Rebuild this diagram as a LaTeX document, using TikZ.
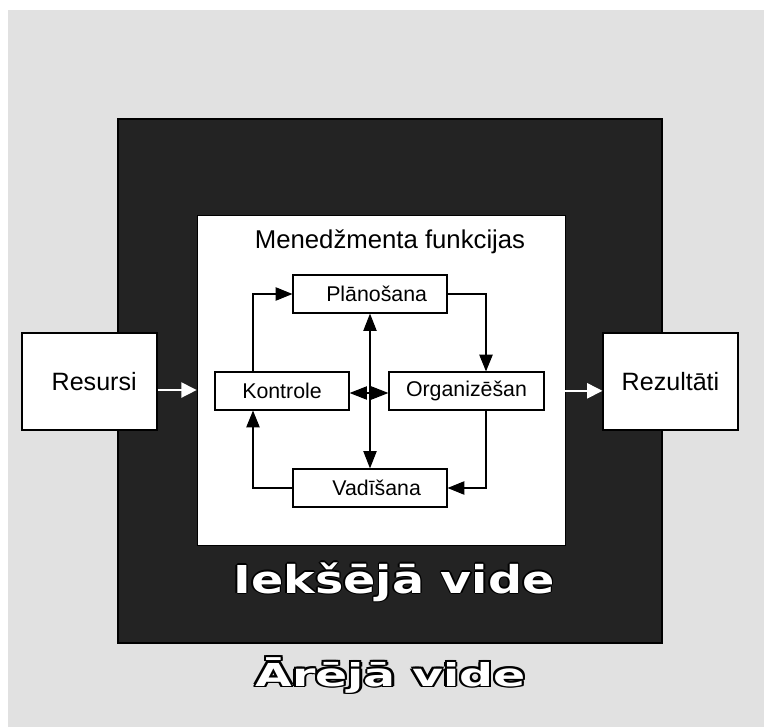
\documentclass[tikz,border=0pt]{standalone}
\usepackage{fontspec}
\setmainfont{Liberation Sans}
\newfontfamily\heavyfont{DejaVu Sans}
\usetikzlibrary{arrows.meta}

\definecolor{pagegray}{HTML}{E1E1E1}
\definecolor{envdark}{HTML}{232323}

% white lettering with a black rim, built from shifted black copies
\newlength\ringr
\newcommand\outlinetext[2]{\setlength\ringr{#1}%
  \makebox[0pt][l]{\color{black}%
    \rlap{\hspace*{\ringr}#2}\rlap{\hspace*{-\ringr}#2}%
    \rlap{\raisebox{\ringr}{#2}}\rlap{\raisebox{-\ringr}{#2}}%
    \rlap{\hspace*{0.7\ringr}\raisebox{0.7\ringr}{#2}}%
    \rlap{\hspace*{-0.7\ringr}\raisebox{0.7\ringr}{#2}}%
    \rlap{\hspace*{0.7\ringr}\raisebox{-0.7\ringr}{#2}}%
    \rlap{\hspace*{-0.7\ringr}\raisebox{-0.7\ringr}{#2}}}%
  \textcolor{white}{#2}}

\tikzset{
  pxbox/.style 2 args={minimum width=#1*0.75pt, minimum height=#2*0.75pt, inner sep=0pt},
  outerbox/.style={draw=black, fill=white, line width=0.9pt,
    font=\fontsize{18.8}{22}\selectfont},
  funcbox/.style={draw=black, fill=white, line width=0.9pt,
    font=\fontsize{16}{19}\selectfont},
  flow/.style={line width=0.8pt, -{Triangle[length=12.5pt,width=10pt]}},
  twoway/.style={line width=0.8pt,
    {Triangle[length=13pt,width=10pt]}-{Triangle[length=13pt,width=10pt]}},
  whiteflow/.style={draw=white, line width=1.1pt,
    -{Triangle[length=11.5pt,width=11.5pt,fill=white]}},
}

\begin{document}
\begin{tikzpicture}[x=0.75pt, y=-0.75pt]
  % page and surrounding environment
  \useasboundingbox (0,0) rectangle (764,727);
  \fill[white] (0,0) rectangle (764,727);
  \fill[pagegray] (8,10) rectangle (764,727);

  % internal environment
  \node[pxbox={544}{524}, draw=black, fill=envdark, line width=1.5pt] (inside) at (390,381) {};

  % management functions panel
  \node[pxbox={368}{330}, draw=black, fill=white, line width=0.6pt] (panel) at (381,380) {};
  \node[anchor=base, font=\fontsize{19.3}{23}\selectfont, inner sep=0pt] (paneltitle) at (390,249) {Menedžmenta funkcijas};

  % inputs and outputs
  \node[outerbox, pxbox={135}{97}] (res) at (89.5,381.5) {\hspace*{7pt}Resursi};
  \node[outerbox, pxbox={135}{97}] (rez) at (670.5,381.5) {Rezultāti};

  % the four functions
  \node[funcbox, pxbox={154}{38}] (plan) at (370,294) {\hspace*{10pt}Plānošana};
  \node[funcbox, pxbox={134}{38}] (kon) at (282,391) {Kontrole};
  \node[funcbox, pxbox={155}{38}] (org) at (466.5,391) {Organizēšan};
  \node[funcbox, pxbox={154}{38}] (vad) at (370,488) {\hspace*{10pt}Vadīšana};

  % management cycle
  \coordinate (konN) at ([xshift=-29*0.75pt]kon.north);
  \coordinate (konS) at ([xshift=-29*0.75pt]kon.south);
  \coordinate (orgN) at ([xshift=19.5*0.75pt]org.north);
  \coordinate (orgS) at ([xshift=19.5*0.75pt]org.south);
  \draw[flow] (konN) |- (plan.west);
  \draw[flow] (plan.east) -| (orgN);
  \draw[flow] (orgS) |- (vad.east);
  \draw[flow] (vad.west) -| (konS);
  \draw[twoway] (plan.south) -- (vad.north);
  \draw[twoway] ([yshift=-1.5pt]kon.east) -- ([yshift=-1.5pt]org.west);

  % resources in, results out
  \coordinate (resout) at ([yshift=-6.4pt]res.east);
  \coordinate (rezin) at ([yshift=-7pt]rez.west);
  \draw[whiteflow] (resout) -- (resout -| panel.west);
  \draw[whiteflow] (rezin -| panel.east) -- (rezin);

  % environment labels
  \node[anchor=base, inner sep=0pt] (innerenv) at (394,593)
    {\scalebox{1.24}[1]{\heavyfont\bfseries\fontsize{28.8}{32}\selectfont\outlinetext{0.9pt}{Iekšējā vide}}};
  \node[anchor=base, inner sep=0pt] (outerenv) at (390.5,686)
    {\scalebox{1.5}[1]{\heavyfont\bfseries\fontsize{23.7}{27}\selectfont\outlinetext{1.2pt}{Ārējā vide}}};
\end{tikzpicture}
\end{document}
